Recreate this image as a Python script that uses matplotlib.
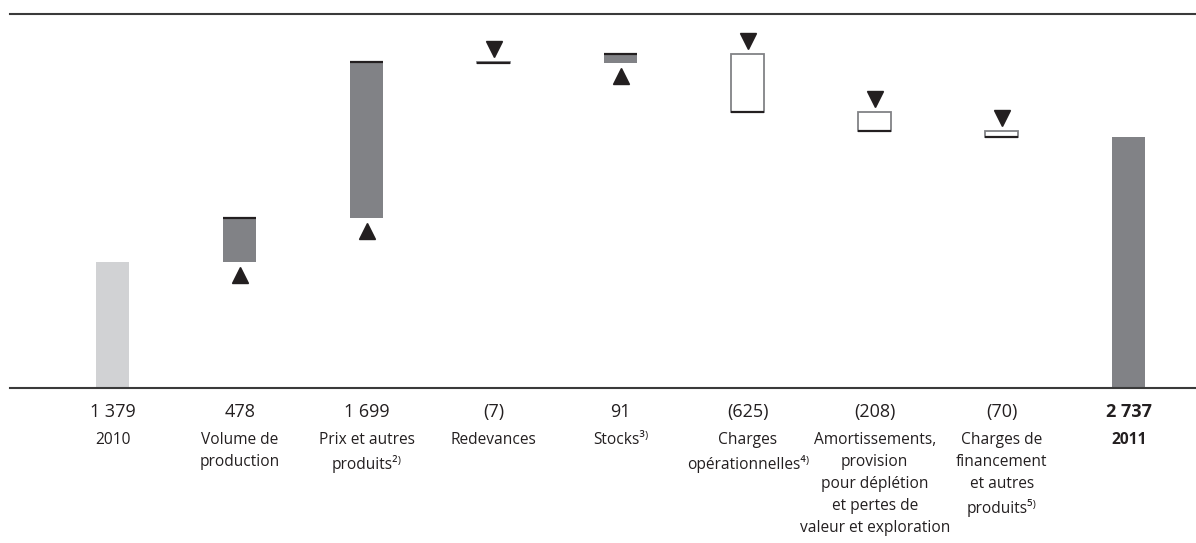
import numpy as np
import matplotlib.pyplot as plt
from matplotlib.transforms import offset_copy, blended_transform_factory

plt.rcParams['font.family'] = ['Open Sans', 'DejaVu Sans']

# data (millions)
labels = ['2010',
          'Volume de\nproduction',
          'Prix et autres\nproduits²⁾',
          'Redevances',
          'Stocks³⁾',
          'Charges\nopérationnelles⁴⁾',
          'Amortissements,\nprovision\npour déplétion\net pertes de\nvaleur et exploration',
          'Charges de\nfinancement\net autres\nproduits⁵⁾',
          '2011']
start = 1379
changes = [478, 1699, -7, 91, -625, -208, -70]
end = 2737

light = '#d1d2d4'
dark = '#818286'
ink = '#231f20'


def fmt(v):
    s = '{:,}'.format(abs(v)).replace(',', ' ')
    return '({})'.format(s) if v < 0 else s


W, H = 1196, 543
fig = plt.figure(figsize=(W / 100, H / 100), dpi=100)
ax = fig.add_axes([10 / W, (H - 388) / H, (W - 10) / W, 374 / H])

w = 0.26
up = offset_copy(ax.transData, fig=fig, x=0, y=-13, units='dots')
down = offset_copy(ax.transData, fig=fig, x=0, y=13, units='dots')

ax.bar(0, start, width=w, color=light, lw=0)
level = start
for i, v in enumerate(changes, start=1):
    new = level + v
    if v > 0:
        ax.bar(i, v, bottom=level, width=w, color=dark, lw=0)
        ax.hlines(new, i - w / 2, i + w / 2, color=ink, lw=1.6)
        ax.plot(i, level, marker='^', ms=11, color=ink, transform=up)
    else:
        ax.bar(i, -v, bottom=new, width=w, facecolor='white',
               edgecolor=dark, lw=1.3)
        ax.hlines(new, i - w / 2, i + w / 2, color=ink, lw=1.6)
        ax.plot(i, level, marker='v', ms=11, color=ink, transform=down)
    level = new
ax.bar(len(labels) - 1, end, width=w, color=dark, lw=0)

ax.set_xlim(-0.81, 8.53)
ax.set_ylim(0, 4080)
ax.set_xticks([])
ax.set_yticks([])
for s in ['left', 'right']:
    ax.spines[s].set_visible(False)
for s in ['top', 'bottom']:
    ax.spines[s].set_color('#3a3a3a')
    ax.spines[s].set_linewidth(1.5)

# value row and category labels under the axis
tr = blended_transform_factory(ax.transData, fig.transFigure)
values = [start] + changes + [end]
for i, (v, lab) in enumerate(zip(values, labels)):
    wt = 'bold' if i == len(labels) - 1 else 'normal'
    ax.text(i, 1 - 412 / H, fmt(v), transform=tr, ha='center', va='center',
            fontsize=13, color=ink, fontweight=wt)
    ax.text(i, 1 - 432 / H, lab, transform=tr, ha='center', va='top',
            multialignment='center', fontsize=11.2, color=ink,
            fontweight=wt, linespacing=1.5)

fig.savefig('out.png', dpi=100)
